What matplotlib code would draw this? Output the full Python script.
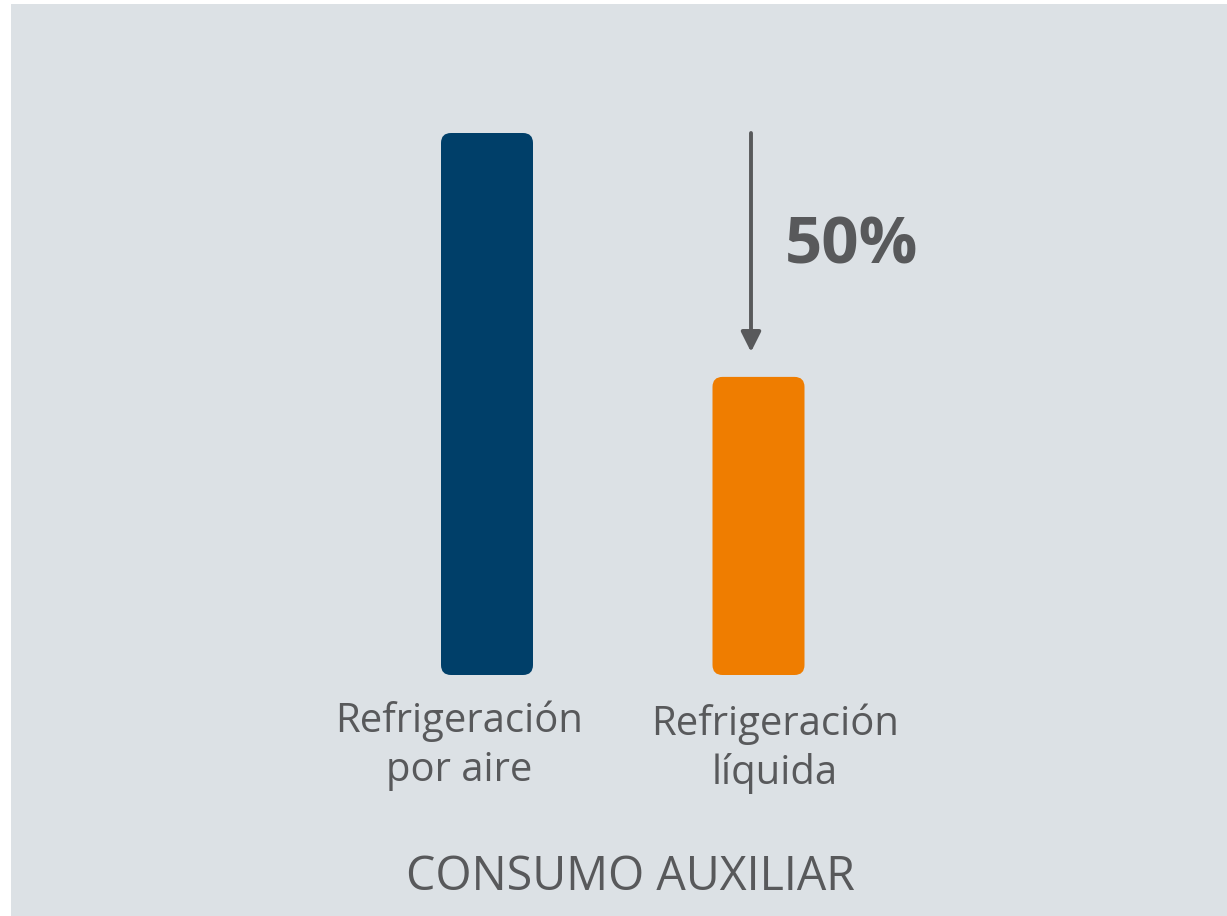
import matplotlib
matplotlib.use("Agg")
import matplotlib.pyplot as plt
from matplotlib.patches import FancyBboxPatch, Rectangle
from matplotlib.transforms import blended_transform_factory

# ---- data ----
categories = ["Refrigeración\npor aire", "Refrigeración\nlíquida"]
values = [100, 55]
bar_colors = ["#003F69", "#EF7D00"]
reduction_label = "50%"
group_label = "CONSUMO AUXILIAR"

W, H = 1227, 916
DPI = 100
BG = "#DCE1E5"
TXT = "#58595B"
FONT = ["Open Sans", "DejaVu Sans"]

fig = plt.figure(figsize=(W / DPI, H / DPI), dpi=DPI, facecolor="white")
# grey panel
fig.patches.append(Rectangle((11 / W, 0), 1 - 11 / W, (H - 4) / H,
                             transform=fig.transFigure, facecolor=BG,
                             edgecolor="none", zorder=-10))

bottom_px, top_px = 675, 133
ax = fig.add_axes([0, (H - bottom_px) / H, 1, (bottom_px - top_px) / H])
ax.set_facecolor("none")
ax.set_zorder(1)
px_per_unit = 271.5
c0 = 487
ax.set_xlim(-c0 / px_per_unit, (W - c0) / px_per_unit)
ax.set_ylim(0, 100)
ax.axis("off")

bar_w = 92 / px_per_unit
bars = ax.bar(range(len(values)), values, width=bar_w, color=bar_colors)
r_x = 10 / px_per_unit
r_y = 10 / ((bottom_px - top_px) / 100)
for b in bars:
    b.set_visible(False)
    fb = FancyBboxPatch((b.get_x(), b.get_y()), b.get_width(), b.get_height(),
                        boxstyle=f"round,pad=0,rounding_size={r_x}",
                        mutation_aspect=r_y / r_x,
                        facecolor=b.get_facecolor(), edgecolor="none", zorder=2)
    ax.add_patch(fb)

# arrow from first bar height down toward second
arrow_x = (751 - c0) / px_per_unit
tip = values[1] + 4.6
ax.annotate("", xy=(arrow_x, tip), xytext=(arrow_x, values[0]),
            arrowprops=dict(arrowstyle="-|>,head_length=12,head_width=6",
                            mutation_scale=1, lw=2.8, color=TXT,
                            shrinkA=0, shrinkB=0))
ax.text((851 - c0) / px_per_unit, (values[0] + tip) / 2 - 0.9, reduction_label,
        ha="center", va="center", fontsize=47, fontweight="bold",
        color=TXT, family=FONT)

bt = blended_transform_factory(ax.transData, fig.transFigure)
label_x = [(459 - c0) / px_per_unit, (775 - c0) / px_per_unit]
label_y = [746, 749]
for x, yv, lab in zip(label_x, label_y, categories):
    ax.text(x, 1 - yv / H, lab, transform=bt, ha="center", va="center",
            fontsize=28.8, color=TXT, family=FONT, linespacing=1.27)

fig.text(630 / W, 1 - 877 / H, group_label, ha="center", va="center",
         fontsize=33.5, color=TXT, family=FONT)

fig.savefig("out.png", dpi=DPI, facecolor="white")
